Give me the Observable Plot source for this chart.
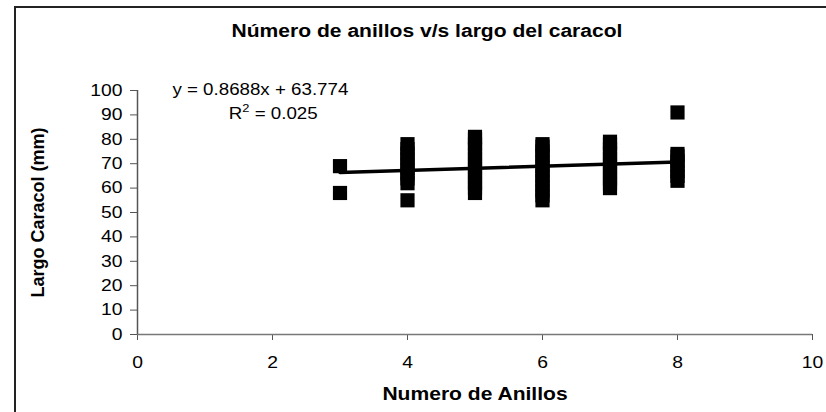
<!DOCTYPE html>
<html>
<head>
<meta charset="utf-8">
<script src="https://cdn.jsdelivr.net/npm/d3@7"></script>
<script src="https://cdn.jsdelivr.net/npm/@observablehq/plot@0.6"></script>
<style>
  html, body { margin: 0; padding: 0; background: #fff; }
  #wrap { position: relative; width: 826px; height: 412px; overflow: hidden; font-family: "Liberation Sans", Arial, sans-serif; }
  #frame { position: absolute; left: 14px; top: 6px; width: 900px; height: 500px; border-left: 2px solid #222; border-top: 2px solid #222; }
  #title { position: absolute; left: 427px; top: 21px; transform: translateX(-50%) scaleX(1.17); font-size: 18px; font-weight: bold; white-space: nowrap; color: #000; }
  #chart { position: absolute; left: 0; top: 0; }
</style>
</head>
<body>
<div id="wrap">
  <div id="frame"></div>
  <div id="chart"></div>
  <div id="title">Número de anillos v/s largo del caracol</div>
</div>
<script>
// Number of rings (x) and snail length in mm (y)
const anillos = [
  3, 3,
  4, 4, 4, 4, 4, 4, 4, 4, 4, 4,
  5, 5, 5, 5, 5, 5, 5, 5, 5, 5, 5, 5, 5,
  6, 6, 6, 6, 6, 6, 6, 6, 6, 6, 6, 6, 6,
  7, 7, 7, 7, 7, 7, 7, 7, 7, 7, 7,
  8, 8, 8, 8, 8, 8, 8, 8
];
const largo = [
  69, 58,
  55, 62, 64, 66, 68, 70, 72, 74, 76, 78,
  58, 60, 62, 64, 66, 68, 70, 72, 74, 76, 78, 80, 81,
  55, 57, 59, 61, 63, 65, 67, 69, 71, 73, 75, 77, 78,
  60, 62, 64, 66, 68, 70, 72, 74, 76, 78, 79,
  63, 65, 67, 69, 71, 73, 74, 91
];
// Linear trendline as printed on the chart
const pendiente = 0.8688;
const intercepto = 63.774;
const tendenciaX = [3, 8];
const xTicks = [0, 2, 4, 6, 8, 10];
const yTicks = [0, 10, 20, 30, 40, 50, 60, 70, 80, 90, 100];
const anotaciones = ["y = 0.8688x + 63.774", "R2 = 0.025"];
const anotX = [1.82, 2.01];
const anotY = [100.4, 90.6];
const tituloX = "Numero de Anillos";
const tituloY = "Largo Caracol (mm)";

const puntos = anillos.map((a, i) => ({ x: a, y: largo[i] }));
const tendencia = tendenciaX.map(x => ({ x, y: pendiente * x + intercepto }));
const textos = anotaciones.map((t, i) => ({ t, x: anotX[i], y: anotY[i] }));

const chart = Plot.plot({
  width: 826,
  height: 412,
  marginLeft: 137,
  marginRight: 14,
  marginTop: 90,
  marginBottom: 78,
  style: { fontFamily: "'Liberation Sans', Arial, sans-serif", background: "transparent", color: "#000", overflow: "visible" },
  x: { domain: [0, 10] },
  y: { domain: [0, 100] },
  marks: [
    Plot.axisY({ ticks: yTicks, tickSize: 7, tickPadding: 8, fontSize: 16.5, stroke: "#555", label: null }),
    Plot.axisX({ ticks: xTicks, tickSize: 6, tickPadding: 16, fontSize: 16.5, stroke: "#555", label: null }),
    Plot.ruleY([0], { stroke: "#777", strokeWidth: 1.5 }),
    Plot.ruleX([0], { stroke: "#555", strokeWidth: 1.5 }),
    Plot.dot(puntos, { x: "x", y: "y", symbol: "square", r: 8, fill: "#000", stroke: "none" }),
    Plot.line(tendencia, { x: "x", y: "y", stroke: "#000", strokeWidth: 3.5 }),
    Plot.text(textos, { x: "x", y: "y", text: "t", fontSize: 16, fill: "#000", textAnchor: "middle" }),
    Plot.text([tituloX], { frameAnchor: "bottom", dy: 65, fontSize: 18, fontWeight: "bold", fill: "#000", textAnchor: "middle" }),
    Plot.text([tituloY], { frameAnchor: "left", dx: -99, rotate: -90, fontSize: 18, fontWeight: "bold", fill: "#000", textAnchor: "middle" })
  ]
});
document.getElementById("chart").appendChild(chart);

// R² with a real superscript 2
chart.querySelectorAll("text").forEach(el => {
  if (el.textContent === anotaciones[1]) {
    const ns = "http://www.w3.org/2000/svg";
    el.textContent = "";
    const a = document.createElementNS(ns, "tspan"); a.textContent = "R";
    const b = document.createElementNS(ns, "tspan"); b.textContent = "2";
    b.setAttribute("font-size", "11"); b.setAttribute("dy", "-7");
    const c = document.createElementNS(ns, "tspan"); c.textContent = " = 0.025";
    c.setAttribute("dy", "7");
    el.append(a, b, c);
  }
});

// The reference glyphs are stretched horizontally (~1.17x); mimic with textLength
chart.querySelectorAll("text").forEach(el => {
  if (el.textContent === tituloY) return;
  const L = el.getComputedTextLength();
  if (L > 0) {
    el.setAttribute("textLength", (L * 1.17).toFixed(2));
    el.setAttribute("lengthAdjust", "spacingAndGlyphs");
  }
});
</script>
</body>
</html>
